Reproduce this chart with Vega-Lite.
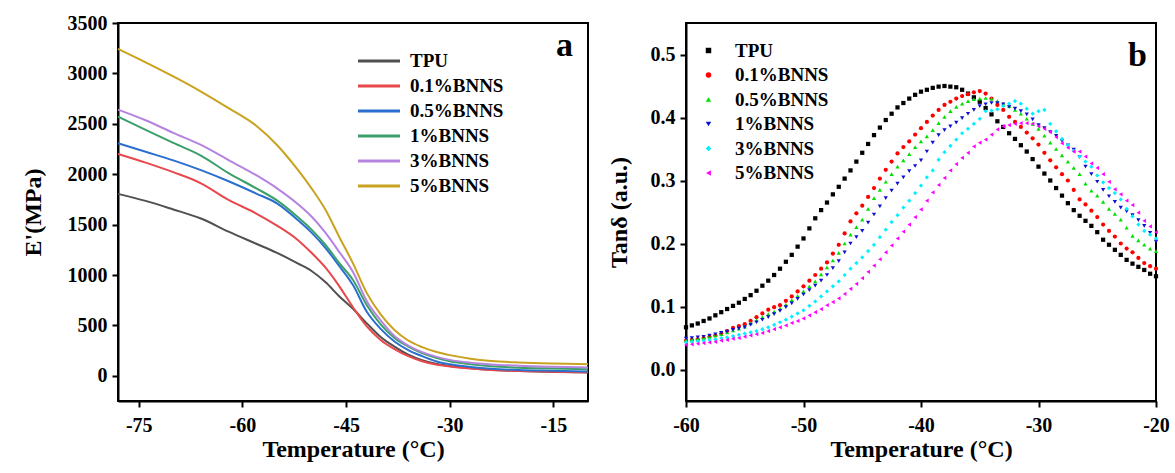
{
"$schema": "https://vega.github.io/schema/vega-lite/v6.json",
"background": "white",
"padding": {"left": 20, "top": 12, "right": 0, "bottom": 0},
"spacing": 13,
"resolve": {"scale": {"color": "independent", "shape": "independent"}, "legend": {"color": "independent", "shape": "independent"}},
"config": {
 "font": "Liberation Serif",
 "view": {"stroke": "black", "strokeWidth": 2},
 "axis": {"grid": false, "domainColor": "black", "domainWidth": 2, "tickColor": "black", "tickWidth": 2, "tickSize": 6, "labelFont": "Liberation Serif", "labelFontSize": 20, "labelFontWeight": "bold", "labelColor": "black", "labelPadding": 5, "labelOverlap": false, "labelFlush": false, "titleFont": "Liberation Serif", "titleFontSize": 24, "titleFontWeight": "bold", "titleColor": "black"},
 "axisX": {"labelPadding": 8, "titlePadding": 2},
 "legend": {"labelFont": "Liberation Serif", "labelFontSize": 19, "labelFontWeight": "bold", "labelColor": "black"},
 "title": {"font": "Liberation Serif", "fontWeight": "bold", "fontSize": 34, "color": "black", "anchor": "end", "baseline": "alphabetic", "frame": "group"}
},
"datasets": {
"modulus": [
{"sample":"TPU","temp":-78,"modulus":1805},{"sample":"TPU","temp":-74,"modulus":1735},{"sample":"TPU","temp":-70,"modulus":1650},{"sample":"TPU","temp":-66,"modulus":1560},{"sample":"TPU","temp":-62,"modulus":1430},{"sample":"TPU","temp":-58,"modulus":1310},{"sample":"TPU","temp":-55,"modulus":1220},{"sample":"TPU","temp":-52,"modulus":1115},{"sample":"TPU","temp":-50,"modulus":1040},{"sample":"TPU","temp":-48,"modulus":930},{"sample":"TPU","temp":-46,"modulus":790},{"sample":"TPU","temp":-44,"modulus":665},{"sample":"TPU","temp":-42,"modulus":520},{"sample":"TPU","temp":-40,"modulus":385},{"sample":"TPU","temp":-38,"modulus":290},{"sample":"TPU","temp":-36,"modulus":210},{"sample":"TPU","temp":-34,"modulus":155},{"sample":"TPU","temp":-32,"modulus":120},{"sample":"TPU","temp":-30,"modulus":98},{"sample":"TPU","temp":-27,"modulus":76},{"sample":"TPU","temp":-24,"modulus":60},{"sample":"TPU","temp":-20,"modulus":48},{"sample":"TPU","temp":-15,"modulus":38},{"sample":"TPU","temp":-10,"modulus":33},
{"sample":"0.1%BNNS","temp":-78,"modulus":2201},{"sample":"0.1%BNNS","temp":-74,"modulus":2115},{"sample":"0.1%BNNS","temp":-70,"modulus":2020},{"sample":"0.1%BNNS","temp":-66,"modulus":1910},{"sample":"0.1%BNNS","temp":-62,"modulus":1745},{"sample":"0.1%BNNS","temp":-58,"modulus":1610},{"sample":"0.1%BNNS","temp":-55,"modulus":1490},{"sample":"0.1%BNNS","temp":-52,"modulus":1348},{"sample":"0.1%BNNS","temp":-50,"modulus":1220},{"sample":"0.1%BNNS","temp":-48,"modulus":1075},{"sample":"0.1%BNNS","temp":-46,"modulus":890},{"sample":"0.1%BNNS","temp":-44,"modulus":680},{"sample":"0.1%BNNS","temp":-42,"modulus":490},{"sample":"0.1%BNNS","temp":-40,"modulus":355},{"sample":"0.1%BNNS","temp":-38,"modulus":265},{"sample":"0.1%BNNS","temp":-36,"modulus":195},{"sample":"0.1%BNNS","temp":-34,"modulus":145},{"sample":"0.1%BNNS","temp":-32,"modulus":112},{"sample":"0.1%BNNS","temp":-30,"modulus":92},{"sample":"0.1%BNNS","temp":-27,"modulus":72},{"sample":"0.1%BNNS","temp":-24,"modulus":58},{"sample":"0.1%BNNS","temp":-20,"modulus":48},{"sample":"0.1%BNNS","temp":-15,"modulus":40},{"sample":"0.1%BNNS","temp":-10,"modulus":35},
{"sample":"0.5%BNNS","temp":-78,"modulus":2307},{"sample":"0.5%BNNS","temp":-74,"modulus":2222},{"sample":"0.5%BNNS","temp":-70,"modulus":2137},{"sample":"0.5%BNNS","temp":-66,"modulus":2040},{"sample":"0.5%BNNS","temp":-62,"modulus":1930},{"sample":"0.5%BNNS","temp":-58,"modulus":1808},{"sample":"0.5%BNNS","temp":-55,"modulus":1710},{"sample":"0.5%BNNS","temp":-52,"modulus":1545},{"sample":"0.5%BNNS","temp":-50,"modulus":1420},{"sample":"0.5%BNNS","temp":-48,"modulus":1270},{"sample":"0.5%BNNS","temp":-46,"modulus":1090},{"sample":"0.5%BNNS","temp":-44,"modulus":900},{"sample":"0.5%BNNS","temp":-42,"modulus":635},{"sample":"0.5%BNNS","temp":-40,"modulus":465},{"sample":"0.5%BNNS","temp":-38,"modulus":340},{"sample":"0.5%BNNS","temp":-36,"modulus":255},{"sample":"0.5%BNNS","temp":-34,"modulus":195},{"sample":"0.5%BNNS","temp":-32,"modulus":145},{"sample":"0.5%BNNS","temp":-30,"modulus":115},{"sample":"0.5%BNNS","temp":-27,"modulus":88},{"sample":"0.5%BNNS","temp":-24,"modulus":70},{"sample":"0.5%BNNS","temp":-20,"modulus":58},{"sample":"0.5%BNNS","temp":-15,"modulus":50},{"sample":"0.5%BNNS","temp":-10,"modulus":43},
{"sample":"1%BNNS","temp":-78,"modulus":2572},{"sample":"1%BNNS","temp":-74,"modulus":2440},{"sample":"1%BNNS","temp":-70,"modulus":2310},{"sample":"1%BNNS","temp":-66,"modulus":2185},{"sample":"1%BNNS","temp":-62,"modulus":2010},{"sample":"1%BNNS","temp":-58,"modulus":1860},{"sample":"1%BNNS","temp":-55,"modulus":1740},{"sample":"1%BNNS","temp":-52,"modulus":1575},{"sample":"1%BNNS","temp":-50,"modulus":1450},{"sample":"1%BNNS","temp":-48,"modulus":1300},{"sample":"1%BNNS","temp":-46,"modulus":1120},{"sample":"1%BNNS","temp":-44,"modulus":950},{"sample":"1%BNNS","temp":-42,"modulus":700},{"sample":"1%BNNS","temp":-40,"modulus":510},{"sample":"1%BNNS","temp":-38,"modulus":375},{"sample":"1%BNNS","temp":-36,"modulus":290},{"sample":"1%BNNS","temp":-34,"modulus":225},{"sample":"1%BNNS","temp":-32,"modulus":178},{"sample":"1%BNNS","temp":-30,"modulus":145},{"sample":"1%BNNS","temp":-27,"modulus":115},{"sample":"1%BNNS","temp":-24,"modulus":95},{"sample":"1%BNNS","temp":-20,"modulus":80},{"sample":"1%BNNS","temp":-15,"modulus":72},{"sample":"1%BNNS","temp":-10,"modulus":66},
{"sample":"3%BNNS","temp":-78,"modulus":2641},{"sample":"3%BNNS","temp":-74,"modulus":2535},{"sample":"3%BNNS","temp":-70,"modulus":2410},{"sample":"3%BNNS","temp":-66,"modulus":2290},{"sample":"3%BNNS","temp":-62,"modulus":2140},{"sample":"3%BNNS","temp":-58,"modulus":1990},{"sample":"3%BNNS","temp":-55,"modulus":1860},{"sample":"3%BNNS","temp":-52,"modulus":1705},{"sample":"3%BNNS","temp":-50,"modulus":1580},{"sample":"3%BNNS","temp":-48,"modulus":1420},{"sample":"3%BNNS","temp":-46,"modulus":1230},{"sample":"3%BNNS","temp":-44,"modulus":1030},{"sample":"3%BNNS","temp":-42,"modulus":740},{"sample":"3%BNNS","temp":-40,"modulus":550},{"sample":"3%BNNS","temp":-38,"modulus":395},{"sample":"3%BNNS","temp":-36,"modulus":300},{"sample":"3%BNNS","temp":-34,"modulus":235},{"sample":"3%BNNS","temp":-32,"modulus":190},{"sample":"3%BNNS","temp":-30,"modulus":158},{"sample":"3%BNNS","temp":-27,"modulus":130},{"sample":"3%BNNS","temp":-24,"modulus":113},{"sample":"3%BNNS","temp":-20,"modulus":100},{"sample":"3%BNNS","temp":-15,"modulus":90},{"sample":"3%BNNS","temp":-10,"modulus":83},
{"sample":"5%BNNS","temp":-78,"modulus":3244},{"sample":"5%BNNS","temp":-74,"modulus":3110},{"sample":"5%BNNS","temp":-70,"modulus":2970},{"sample":"5%BNNS","temp":-66,"modulus":2820},{"sample":"5%BNNS","temp":-62,"modulus":2655},{"sample":"5%BNNS","temp":-58,"modulus":2480},{"sample":"5%BNNS","temp":-55,"modulus":2290},{"sample":"5%BNNS","temp":-52,"modulus":2045},{"sample":"5%BNNS","temp":-50,"modulus":1860},{"sample":"5%BNNS","temp":-48,"modulus":1650},{"sample":"5%BNNS","temp":-46,"modulus":1380},{"sample":"5%BNNS","temp":-44,"modulus":1115},{"sample":"5%BNNS","temp":-42,"modulus":820},{"sample":"5%BNNS","temp":-40,"modulus":610},{"sample":"5%BNNS","temp":-38,"modulus":455},{"sample":"5%BNNS","temp":-36,"modulus":350},{"sample":"5%BNNS","temp":-34,"modulus":285},{"sample":"5%BNNS","temp":-32,"modulus":238},{"sample":"5%BNNS","temp":-30,"modulus":205},{"sample":"5%BNNS","temp":-27,"modulus":170},{"sample":"5%BNNS","temp":-24,"modulus":148},{"sample":"5%BNNS","temp":-20,"modulus":133},{"sample":"5%BNNS","temp":-15,"modulus":122},{"sample":"5%BNNS","temp":-10,"modulus":115}
],
"tand": [
{"sample":"TPU","temp":-60,"tand":0.067},{"sample":"TPU","temp":-59.5,"tand":0.070},{"sample":"TPU","temp":-59,"tand":0.073},{"sample":"TPU","temp":-58.5,"tand":0.077},{"sample":"TPU","temp":-58,"tand":0.081},{"sample":"TPU","temp":-57.5,"tand":0.086},{"sample":"TPU","temp":-57,"tand":0.091},{"sample":"TPU","temp":-56.5,"tand":0.096},{"sample":"TPU","temp":-56,"tand":0.101},{"sample":"TPU","temp":-55.5,"tand":0.106},{"sample":"TPU","temp":-55,"tand":0.112},{"sample":"TPU","temp":-54.5,"tand":0.118},{"sample":"TPU","temp":-54,"tand":0.125},{"sample":"TPU","temp":-53.5,"tand":0.133},{"sample":"TPU","temp":-53,"tand":0.141},{"sample":"TPU","temp":-52.5,"tand":0.150},{"sample":"TPU","temp":-52,"tand":0.160},{"sample":"TPU","temp":-51.5,"tand":0.171},{"sample":"TPU","temp":-51,"tand":0.182},{"sample":"TPU","temp":-50.5,"tand":0.195},{"sample":"TPU","temp":-50,"tand":0.208},{"sample":"TPU","temp":-49.5,"tand":0.224},{"sample":"TPU","temp":-49,"tand":0.240},{"sample":"TPU","temp":-48.5,"tand":0.253},{"sample":"TPU","temp":-48,"tand":0.265},{"sample":"TPU","temp":-47.5,"tand":0.278},{"sample":"TPU","temp":-47,"tand":0.290},{"sample":"TPU","temp":-46.5,"tand":0.303},{"sample":"TPU","temp":-46,"tand":0.316},{"sample":"TPU","temp":-45.5,"tand":0.330},{"sample":"TPU","temp":-45,"tand":0.344},{"sample":"TPU","temp":-44.5,"tand":0.358},{"sample":"TPU","temp":-44,"tand":0.372},{"sample":"TPU","temp":-43.5,"tand":0.384},{"sample":"TPU","temp":-43,"tand":0.396},{"sample":"TPU","temp":-42.5,"tand":0.406},{"sample":"TPU","temp":-42,"tand":0.416},{"sample":"TPU","temp":-41.5,"tand":0.423},{"sample":"TPU","temp":-41,"tand":0.430},{"sample":"TPU","temp":-40.5,"tand":0.436},{"sample":"TPU","temp":-40,"tand":0.441},{"sample":"TPU","temp":-39.5,"tand":0.444},{"sample":"TPU","temp":-39,"tand":0.447},{"sample":"TPU","temp":-38.5,"tand":0.449},{"sample":"TPU","temp":-38,"tand":0.450},{"sample":"TPU","temp":-37.5,"tand":0.449},{"sample":"TPU","temp":-37,"tand":0.448},{"sample":"TPU","temp":-36.5,"tand":0.444},{"sample":"TPU","temp":-36,"tand":0.438},{"sample":"TPU","temp":-35.5,"tand":0.432},{"sample":"TPU","temp":-35,"tand":0.425},{"sample":"TPU","temp":-34.5,"tand":0.415},{"sample":"TPU","temp":-34,"tand":0.405},{"sample":"TPU","temp":-33.5,"tand":0.394},{"sample":"TPU","temp":-33,"tand":0.385},{"sample":"TPU","temp":-32.5,"tand":0.375},{"sample":"TPU","temp":-32,"tand":0.366},{"sample":"TPU","temp":-31.5,"tand":0.356},{"sample":"TPU","temp":-31,"tand":0.346},{"sample":"TPU","temp":-30.5,"tand":0.334},{"sample":"TPU","temp":-30,"tand":0.322},{"sample":"TPU","temp":-29.5,"tand":0.311},{"sample":"TPU","temp":-29,"tand":0.300},{"sample":"TPU","temp":-28.5,"tand":0.288},{"sample":"TPU","temp":-28,"tand":0.276},{"sample":"TPU","temp":-27.5,"tand":0.264},{"sample":"TPU","temp":-27,"tand":0.253},{"sample":"TPU","temp":-26.5,"tand":0.244},{"sample":"TPU","temp":-26,"tand":0.236},{"sample":"TPU","temp":-25.5,"tand":0.228},{"sample":"TPU","temp":-25,"tand":0.218},{"sample":"TPU","temp":-24.5,"tand":0.206},{"sample":"TPU","temp":-24,"tand":0.198},{"sample":"TPU","temp":-23.5,"tand":0.190},{"sample":"TPU","temp":-23,"tand":0.182},{"sample":"TPU","temp":-22.5,"tand":0.174},{"sample":"TPU","temp":-22,"tand":0.168},{"sample":"TPU","temp":-21.5,"tand":0.163},{"sample":"TPU","temp":-21,"tand":0.158},{"sample":"TPU","temp":-20.5,"tand":0.152},{"sample":"TPU","temp":-20,"tand":0.148},
{"sample":"0.1%BNNS","temp":-60,"tand":0.046},{"sample":"0.1%BNNS","temp":-59.5,"tand":0.047},{"sample":"0.1%BNNS","temp":-59,"tand":0.048},{"sample":"0.1%BNNS","temp":-58.5,"tand":0.050},{"sample":"0.1%BNNS","temp":-58,"tand":0.052},{"sample":"0.1%BNNS","temp":-57.5,"tand":0.054},{"sample":"0.1%BNNS","temp":-57,"tand":0.057},{"sample":"0.1%BNNS","temp":-56.5,"tand":0.061},{"sample":"0.1%BNNS","temp":-56,"tand":0.066},{"sample":"0.1%BNNS","temp":-55.5,"tand":0.069},{"sample":"0.1%BNNS","temp":-55,"tand":0.072},{"sample":"0.1%BNNS","temp":-54.5,"tand":0.077},{"sample":"0.1%BNNS","temp":-54,"tand":0.083},{"sample":"0.1%BNNS","temp":-53.5,"tand":0.089},{"sample":"0.1%BNNS","temp":-53,"tand":0.095},{"sample":"0.1%BNNS","temp":-52.5,"tand":0.099},{"sample":"0.1%BNNS","temp":-52,"tand":0.102},{"sample":"0.1%BNNS","temp":-51.5,"tand":0.109},{"sample":"0.1%BNNS","temp":-51,"tand":0.116},{"sample":"0.1%BNNS","temp":-50.5,"tand":0.124},{"sample":"0.1%BNNS","temp":-50,"tand":0.132},{"sample":"0.1%BNNS","temp":-49.5,"tand":0.141},{"sample":"0.1%BNNS","temp":-49,"tand":0.150},{"sample":"0.1%BNNS","temp":-48.5,"tand":0.160},{"sample":"0.1%BNNS","temp":-48,"tand":0.170},{"sample":"0.1%BNNS","temp":-47.5,"tand":0.184},{"sample":"0.1%BNNS","temp":-47,"tand":0.198},{"sample":"0.1%BNNS","temp":-46.5,"tand":0.216},{"sample":"0.1%BNNS","temp":-46,"tand":0.235},{"sample":"0.1%BNNS","temp":-45.5,"tand":0.248},{"sample":"0.1%BNNS","temp":-45,"tand":0.260},{"sample":"0.1%BNNS","temp":-44.5,"tand":0.274},{"sample":"0.1%BNNS","temp":-44,"tand":0.288},{"sample":"0.1%BNNS","temp":-43.5,"tand":0.303},{"sample":"0.1%BNNS","temp":-43,"tand":0.317},{"sample":"0.1%BNNS","temp":-42.5,"tand":0.330},{"sample":"0.1%BNNS","temp":-42,"tand":0.343},{"sample":"0.1%BNNS","temp":-41.5,"tand":0.353},{"sample":"0.1%BNNS","temp":-41,"tand":0.362},{"sample":"0.1%BNNS","temp":-40.5,"tand":0.373},{"sample":"0.1%BNNS","temp":-40,"tand":0.383},{"sample":"0.1%BNNS","temp":-39.5,"tand":0.393},{"sample":"0.1%BNNS","temp":-39,"tand":0.403},{"sample":"0.1%BNNS","temp":-38.5,"tand":0.412},{"sample":"0.1%BNNS","temp":-38,"tand":0.420},{"sample":"0.1%BNNS","temp":-37.5,"tand":0.425},{"sample":"0.1%BNNS","temp":-37,"tand":0.430},{"sample":"0.1%BNNS","temp":-36.5,"tand":0.434},{"sample":"0.1%BNNS","temp":-36,"tand":0.437},{"sample":"0.1%BNNS","temp":-35.5,"tand":0.440},{"sample":"0.1%BNNS","temp":-35,"tand":0.442},{"sample":"0.1%BNNS","temp":-34.5,"tand":0.438},{"sample":"0.1%BNNS","temp":-34,"tand":0.430},{"sample":"0.1%BNNS","temp":-33.5,"tand":0.420},{"sample":"0.1%BNNS","temp":-33,"tand":0.412},{"sample":"0.1%BNNS","temp":-32.5,"tand":0.401},{"sample":"0.1%BNNS","temp":-32,"tand":0.393},{"sample":"0.1%BNNS","temp":-31.5,"tand":0.385},{"sample":"0.1%BNNS","temp":-31,"tand":0.376},{"sample":"0.1%BNNS","temp":-30.5,"tand":0.367},{"sample":"0.1%BNNS","temp":-30,"tand":0.357},{"sample":"0.1%BNNS","temp":-29.5,"tand":0.344},{"sample":"0.1%BNNS","temp":-29,"tand":0.332},{"sample":"0.1%BNNS","temp":-28.5,"tand":0.321},{"sample":"0.1%BNNS","temp":-28,"tand":0.310},{"sample":"0.1%BNNS","temp":-27.5,"tand":0.300},{"sample":"0.1%BNNS","temp":-27,"tand":0.285},{"sample":"0.1%BNNS","temp":-26.5,"tand":0.270},{"sample":"0.1%BNNS","temp":-26,"tand":0.262},{"sample":"0.1%BNNS","temp":-25.5,"tand":0.252},{"sample":"0.1%BNNS","temp":-25,"tand":0.242},{"sample":"0.1%BNNS","temp":-24.5,"tand":0.230},{"sample":"0.1%BNNS","temp":-24,"tand":0.220},{"sample":"0.1%BNNS","temp":-23.5,"tand":0.211},{"sample":"0.1%BNNS","temp":-23,"tand":0.200},{"sample":"0.1%BNNS","temp":-22.5,"tand":0.192},{"sample":"0.1%BNNS","temp":-22,"tand":0.186},{"sample":"0.1%BNNS","temp":-21.5,"tand":0.177},{"sample":"0.1%BNNS","temp":-21,"tand":0.169},{"sample":"0.1%BNNS","temp":-20.5,"tand":0.164},{"sample":"0.1%BNNS","temp":-20,"tand":0.160},
{"sample":"0.5%BNNS","temp":-60,"tand":0.047},{"sample":"0.5%BNNS","temp":-59.5,"tand":0.048},{"sample":"0.5%BNNS","temp":-59,"tand":0.049},{"sample":"0.5%BNNS","temp":-58.5,"tand":0.050},{"sample":"0.5%BNNS","temp":-58,"tand":0.052},{"sample":"0.5%BNNS","temp":-57.5,"tand":0.054},{"sample":"0.5%BNNS","temp":-57,"tand":0.056},{"sample":"0.5%BNNS","temp":-56.5,"tand":0.059},{"sample":"0.5%BNNS","temp":-56,"tand":0.062},{"sample":"0.5%BNNS","temp":-55.5,"tand":0.065},{"sample":"0.5%BNNS","temp":-55,"tand":0.068},{"sample":"0.5%BNNS","temp":-54.5,"tand":0.073},{"sample":"0.5%BNNS","temp":-54,"tand":0.078},{"sample":"0.5%BNNS","temp":-53.5,"tand":0.083},{"sample":"0.5%BNNS","temp":-53,"tand":0.088},{"sample":"0.5%BNNS","temp":-52.5,"tand":0.092},{"sample":"0.5%BNNS","temp":-52,"tand":0.097},{"sample":"0.5%BNNS","temp":-51.5,"tand":0.103},{"sample":"0.5%BNNS","temp":-51,"tand":0.110},{"sample":"0.5%BNNS","temp":-50.5,"tand":0.117},{"sample":"0.5%BNNS","temp":-50,"tand":0.124},{"sample":"0.5%BNNS","temp":-49.5,"tand":0.132},{"sample":"0.5%BNNS","temp":-49,"tand":0.140},{"sample":"0.5%BNNS","temp":-48.5,"tand":0.151},{"sample":"0.5%BNNS","temp":-48,"tand":0.162},{"sample":"0.5%BNNS","temp":-47.5,"tand":0.173},{"sample":"0.5%BNNS","temp":-47,"tand":0.185},{"sample":"0.5%BNNS","temp":-46.5,"tand":0.200},{"sample":"0.5%BNNS","temp":-46,"tand":0.214},{"sample":"0.5%BNNS","temp":-45.5,"tand":0.226},{"sample":"0.5%BNNS","temp":-45,"tand":0.238},{"sample":"0.5%BNNS","temp":-44.5,"tand":0.255},{"sample":"0.5%BNNS","temp":-44,"tand":0.272},{"sample":"0.5%BNNS","temp":-43.5,"tand":0.285},{"sample":"0.5%BNNS","temp":-43,"tand":0.298},{"sample":"0.5%BNNS","temp":-42.5,"tand":0.310},{"sample":"0.5%BNNS","temp":-42,"tand":0.322},{"sample":"0.5%BNNS","temp":-41.5,"tand":0.332},{"sample":"0.5%BNNS","temp":-41,"tand":0.342},{"sample":"0.5%BNNS","temp":-40.5,"tand":0.353},{"sample":"0.5%BNNS","temp":-40,"tand":0.362},{"sample":"0.5%BNNS","temp":-39.5,"tand":0.370},{"sample":"0.5%BNNS","temp":-39,"tand":0.380},{"sample":"0.5%BNNS","temp":-38.5,"tand":0.391},{"sample":"0.5%BNNS","temp":-38,"tand":0.401},{"sample":"0.5%BNNS","temp":-37.5,"tand":0.410},{"sample":"0.5%BNNS","temp":-37,"tand":0.417},{"sample":"0.5%BNNS","temp":-36.5,"tand":0.422},{"sample":"0.5%BNNS","temp":-36,"tand":0.426},{"sample":"0.5%BNNS","temp":-35.5,"tand":0.429},{"sample":"0.5%BNNS","temp":-35,"tand":0.430},{"sample":"0.5%BNNS","temp":-34.5,"tand":0.431},{"sample":"0.5%BNNS","temp":-34,"tand":0.430},{"sample":"0.5%BNNS","temp":-33.5,"tand":0.426},{"sample":"0.5%BNNS","temp":-33,"tand":0.422},{"sample":"0.5%BNNS","temp":-32.5,"tand":0.418},{"sample":"0.5%BNNS","temp":-32,"tand":0.412},{"sample":"0.5%BNNS","temp":-31.5,"tand":0.406},{"sample":"0.5%BNNS","temp":-31,"tand":0.398},{"sample":"0.5%BNNS","temp":-30.5,"tand":0.390},{"sample":"0.5%BNNS","temp":-30,"tand":0.382},{"sample":"0.5%BNNS","temp":-29.5,"tand":0.371},{"sample":"0.5%BNNS","temp":-29,"tand":0.360},{"sample":"0.5%BNNS","temp":-28.5,"tand":0.350},{"sample":"0.5%BNNS","temp":-28,"tand":0.340},{"sample":"0.5%BNNS","temp":-27.5,"tand":0.330},{"sample":"0.5%BNNS","temp":-27,"tand":0.320},{"sample":"0.5%BNNS","temp":-26.5,"tand":0.310},{"sample":"0.5%BNNS","temp":-26,"tand":0.295},{"sample":"0.5%BNNS","temp":-25.5,"tand":0.284},{"sample":"0.5%BNNS","temp":-25,"tand":0.276},{"sample":"0.5%BNNS","temp":-24.5,"tand":0.266},{"sample":"0.5%BNNS","temp":-24,"tand":0.255},{"sample":"0.5%BNNS","temp":-23.5,"tand":0.247},{"sample":"0.5%BNNS","temp":-23,"tand":0.238},{"sample":"0.5%BNNS","temp":-22.5,"tand":0.225},{"sample":"0.5%BNNS","temp":-22,"tand":0.212},{"sample":"0.5%BNNS","temp":-21.5,"tand":0.205},{"sample":"0.5%BNNS","temp":-21,"tand":0.198},{"sample":"0.5%BNNS","temp":-20.5,"tand":0.192},{"sample":"0.5%BNNS","temp":-20,"tand":0.188},
{"sample":"1%BNNS","temp":-60,"tand":0.049},{"sample":"1%BNNS","temp":-59.5,"tand":0.050},{"sample":"1%BNNS","temp":-59,"tand":0.051},{"sample":"1%BNNS","temp":-58.5,"tand":0.052},{"sample":"1%BNNS","temp":-58,"tand":0.054},{"sample":"1%BNNS","temp":-57.5,"tand":0.056},{"sample":"1%BNNS","temp":-57,"tand":0.058},{"sample":"1%BNNS","temp":-56.5,"tand":0.060},{"sample":"1%BNNS","temp":-56,"tand":0.063},{"sample":"1%BNNS","temp":-55.5,"tand":0.065},{"sample":"1%BNNS","temp":-55,"tand":0.067},{"sample":"1%BNNS","temp":-54.5,"tand":0.071},{"sample":"1%BNNS","temp":-54,"tand":0.075},{"sample":"1%BNNS","temp":-53.5,"tand":0.079},{"sample":"1%BNNS","temp":-53,"tand":0.083},{"sample":"1%BNNS","temp":-52.5,"tand":0.088},{"sample":"1%BNNS","temp":-52,"tand":0.093},{"sample":"1%BNNS","temp":-51.5,"tand":0.099},{"sample":"1%BNNS","temp":-51,"tand":0.105},{"sample":"1%BNNS","temp":-50.5,"tand":0.112},{"sample":"1%BNNS","temp":-50,"tand":0.119},{"sample":"1%BNNS","temp":-49.5,"tand":0.126},{"sample":"1%BNNS","temp":-49,"tand":0.133},{"sample":"1%BNNS","temp":-48.5,"tand":0.141},{"sample":"1%BNNS","temp":-48,"tand":0.150},{"sample":"1%BNNS","temp":-47.5,"tand":0.161},{"sample":"1%BNNS","temp":-47,"tand":0.172},{"sample":"1%BNNS","temp":-46.5,"tand":0.186},{"sample":"1%BNNS","temp":-46,"tand":0.200},{"sample":"1%BNNS","temp":-45.5,"tand":0.210},{"sample":"1%BNNS","temp":-45,"tand":0.220},{"sample":"1%BNNS","temp":-44.5,"tand":0.233},{"sample":"1%BNNS","temp":-44,"tand":0.246},{"sample":"1%BNNS","temp":-43.5,"tand":0.259},{"sample":"1%BNNS","temp":-43,"tand":0.272},{"sample":"1%BNNS","temp":-42.5,"tand":0.284},{"sample":"1%BNNS","temp":-42,"tand":0.295},{"sample":"1%BNNS","temp":-41.5,"tand":0.305},{"sample":"1%BNNS","temp":-41,"tand":0.315},{"sample":"1%BNNS","temp":-40.5,"tand":0.323},{"sample":"1%BNNS","temp":-40,"tand":0.332},{"sample":"1%BNNS","temp":-39.5,"tand":0.346},{"sample":"1%BNNS","temp":-39,"tand":0.360},{"sample":"1%BNNS","temp":-38.5,"tand":0.372},{"sample":"1%BNNS","temp":-38,"tand":0.380},{"sample":"1%BNNS","temp":-37.5,"tand":0.386},{"sample":"1%BNNS","temp":-37,"tand":0.392},{"sample":"1%BNNS","temp":-36.5,"tand":0.399},{"sample":"1%BNNS","temp":-36,"tand":0.406},{"sample":"1%BNNS","temp":-35.5,"tand":0.412},{"sample":"1%BNNS","temp":-35,"tand":0.418},{"sample":"1%BNNS","temp":-34.5,"tand":0.421},{"sample":"1%BNNS","temp":-34,"tand":0.423},{"sample":"1%BNNS","temp":-33.5,"tand":0.423},{"sample":"1%BNNS","temp":-33,"tand":0.421},{"sample":"1%BNNS","temp":-32.5,"tand":0.417},{"sample":"1%BNNS","temp":-32,"tand":0.414},{"sample":"1%BNNS","temp":-31.5,"tand":0.410},{"sample":"1%BNNS","temp":-31,"tand":0.405},{"sample":"1%BNNS","temp":-30.5,"tand":0.397},{"sample":"1%BNNS","temp":-30,"tand":0.388},{"sample":"1%BNNS","temp":-29.5,"tand":0.383},{"sample":"1%BNNS","temp":-29,"tand":0.377},{"sample":"1%BNNS","temp":-28.5,"tand":0.371},{"sample":"1%BNNS","temp":-28,"tand":0.363},{"sample":"1%BNNS","temp":-27.5,"tand":0.356},{"sample":"1%BNNS","temp":-27,"tand":0.349},{"sample":"1%BNNS","temp":-26.5,"tand":0.337},{"sample":"1%BNNS","temp":-26,"tand":0.322},{"sample":"1%BNNS","temp":-25.5,"tand":0.310},{"sample":"1%BNNS","temp":-25,"tand":0.298},{"sample":"1%BNNS","temp":-24.5,"tand":0.285},{"sample":"1%BNNS","temp":-24,"tand":0.275},{"sample":"1%BNNS","temp":-23.5,"tand":0.266},{"sample":"1%BNNS","temp":-23,"tand":0.257},{"sample":"1%BNNS","temp":-22.5,"tand":0.251},{"sample":"1%BNNS","temp":-22,"tand":0.245},{"sample":"1%BNNS","temp":-21.5,"tand":0.237},{"sample":"1%BNNS","temp":-21,"tand":0.228},{"sample":"1%BNNS","temp":-20.5,"tand":0.217},{"sample":"1%BNNS","temp":-20,"tand":0.203},
{"sample":"3%BNNS","temp":-60,"tand":0.043},{"sample":"3%BNNS","temp":-59.5,"tand":0.044},{"sample":"3%BNNS","temp":-59,"tand":0.045},{"sample":"3%BNNS","temp":-58.5,"tand":0.046},{"sample":"3%BNNS","temp":-58,"tand":0.047},{"sample":"3%BNNS","temp":-57.5,"tand":0.048},{"sample":"3%BNNS","temp":-57,"tand":0.050},{"sample":"3%BNNS","temp":-56.5,"tand":0.051},{"sample":"3%BNNS","temp":-56,"tand":0.053},{"sample":"3%BNNS","temp":-55.5,"tand":0.055},{"sample":"3%BNNS","temp":-55,"tand":0.057},{"sample":"3%BNNS","temp":-54.5,"tand":0.059},{"sample":"3%BNNS","temp":-54,"tand":0.061},{"sample":"3%BNNS","temp":-53.5,"tand":0.064},{"sample":"3%BNNS","temp":-53,"tand":0.067},{"sample":"3%BNNS","temp":-52.5,"tand":0.071},{"sample":"3%BNNS","temp":-52,"tand":0.075},{"sample":"3%BNNS","temp":-51.5,"tand":0.079},{"sample":"3%BNNS","temp":-51,"tand":0.084},{"sample":"3%BNNS","temp":-50.5,"tand":0.089},{"sample":"3%BNNS","temp":-50,"tand":0.094},{"sample":"3%BNNS","temp":-49.5,"tand":0.101},{"sample":"3%BNNS","temp":-49,"tand":0.108},{"sample":"3%BNNS","temp":-48.5,"tand":0.116},{"sample":"3%BNNS","temp":-48,"tand":0.124},{"sample":"3%BNNS","temp":-47.5,"tand":0.132},{"sample":"3%BNNS","temp":-47,"tand":0.140},{"sample":"3%BNNS","temp":-46.5,"tand":0.150},{"sample":"3%BNNS","temp":-46,"tand":0.160},{"sample":"3%BNNS","temp":-45.5,"tand":0.169},{"sample":"3%BNNS","temp":-45,"tand":0.178},{"sample":"3%BNNS","temp":-44.5,"tand":0.188},{"sample":"3%BNNS","temp":-44,"tand":0.198},{"sample":"3%BNNS","temp":-43.5,"tand":0.210},{"sample":"3%BNNS","temp":-43,"tand":0.222},{"sample":"3%BNNS","temp":-42.5,"tand":0.234},{"sample":"3%BNNS","temp":-42,"tand":0.245},{"sample":"3%BNNS","temp":-41.5,"tand":0.257},{"sample":"3%BNNS","temp":-41,"tand":0.268},{"sample":"3%BNNS","temp":-40.5,"tand":0.280},{"sample":"3%BNNS","temp":-40,"tand":0.292},{"sample":"3%BNNS","temp":-39.5,"tand":0.305},{"sample":"3%BNNS","temp":-39,"tand":0.316},{"sample":"3%BNNS","temp":-38.5,"tand":0.333},{"sample":"3%BNNS","temp":-38,"tand":0.345},{"sample":"3%BNNS","temp":-37.5,"tand":0.355},{"sample":"3%BNNS","temp":-37,"tand":0.365},{"sample":"3%BNNS","temp":-36.5,"tand":0.375},{"sample":"3%BNNS","temp":-36,"tand":0.382},{"sample":"3%BNNS","temp":-35.5,"tand":0.390},{"sample":"3%BNNS","temp":-35,"tand":0.398},{"sample":"3%BNNS","temp":-34.5,"tand":0.410},{"sample":"3%BNNS","temp":-34,"tand":0.411},{"sample":"3%BNNS","temp":-33.5,"tand":0.413},{"sample":"3%BNNS","temp":-33,"tand":0.418},{"sample":"3%BNNS","temp":-32.5,"tand":0.422},{"sample":"3%BNNS","temp":-32,"tand":0.426},{"sample":"3%BNNS","temp":-31.5,"tand":0.422},{"sample":"3%BNNS","temp":-31,"tand":0.414},{"sample":"3%BNNS","temp":-30.5,"tand":0.406},{"sample":"3%BNNS","temp":-30,"tand":0.410},{"sample":"3%BNNS","temp":-29.5,"tand":0.412},{"sample":"3%BNNS","temp":-29,"tand":0.390},{"sample":"3%BNNS","temp":-28.5,"tand":0.378},{"sample":"3%BNNS","temp":-28,"tand":0.366},{"sample":"3%BNNS","temp":-27.5,"tand":0.356},{"sample":"3%BNNS","temp":-27,"tand":0.347},{"sample":"3%BNNS","temp":-26.5,"tand":0.338},{"sample":"3%BNNS","temp":-26,"tand":0.330},{"sample":"3%BNNS","temp":-25.5,"tand":0.322},{"sample":"3%BNNS","temp":-25,"tand":0.308},{"sample":"3%BNNS","temp":-24.5,"tand":0.297},{"sample":"3%BNNS","temp":-24,"tand":0.288},{"sample":"3%BNNS","temp":-23.5,"tand":0.280},{"sample":"3%BNNS","temp":-23,"tand":0.270},{"sample":"3%BNNS","temp":-22.5,"tand":0.255},{"sample":"3%BNNS","temp":-22,"tand":0.243},{"sample":"3%BNNS","temp":-21.5,"tand":0.230},{"sample":"3%BNNS","temp":-21,"tand":0.220},{"sample":"3%BNNS","temp":-20.5,"tand":0.214},{"sample":"3%BNNS","temp":-20,"tand":0.208},
{"sample":"5%BNNS","temp":-60,"tand":0.039},{"sample":"5%BNNS","temp":-59.5,"tand":0.040},{"sample":"5%BNNS","temp":-59,"tand":0.041},{"sample":"5%BNNS","temp":-58.5,"tand":0.042},{"sample":"5%BNNS","temp":-58,"tand":0.043},{"sample":"5%BNNS","temp":-57.5,"tand":0.044},{"sample":"5%BNNS","temp":-57,"tand":0.046},{"sample":"5%BNNS","temp":-56.5,"tand":0.047},{"sample":"5%BNNS","temp":-56,"tand":0.049},{"sample":"5%BNNS","temp":-55.5,"tand":0.050},{"sample":"5%BNNS","temp":-55,"tand":0.052},{"sample":"5%BNNS","temp":-54.5,"tand":0.054},{"sample":"5%BNNS","temp":-54,"tand":0.056},{"sample":"5%BNNS","temp":-53.5,"tand":0.058},{"sample":"5%BNNS","temp":-53,"tand":0.061},{"sample":"5%BNNS","temp":-52.5,"tand":0.064},{"sample":"5%BNNS","temp":-52,"tand":0.067},{"sample":"5%BNNS","temp":-51.5,"tand":0.070},{"sample":"5%BNNS","temp":-51,"tand":0.074},{"sample":"5%BNNS","temp":-50.5,"tand":0.077},{"sample":"5%BNNS","temp":-50,"tand":0.081},{"sample":"5%BNNS","temp":-49.5,"tand":0.086},{"sample":"5%BNNS","temp":-49,"tand":0.091},{"sample":"5%BNNS","temp":-48.5,"tand":0.096},{"sample":"5%BNNS","temp":-48,"tand":0.102},{"sample":"5%BNNS","temp":-47.5,"tand":0.107},{"sample":"5%BNNS","temp":-47,"tand":0.113},{"sample":"5%BNNS","temp":-46.5,"tand":0.120},{"sample":"5%BNNS","temp":-46,"tand":0.128},{"sample":"5%BNNS","temp":-45.5,"tand":0.136},{"sample":"5%BNNS","temp":-45,"tand":0.145},{"sample":"5%BNNS","temp":-44.5,"tand":0.155},{"sample":"5%BNNS","temp":-44,"tand":0.165},{"sample":"5%BNNS","temp":-43.5,"tand":0.175},{"sample":"5%BNNS","temp":-43,"tand":0.186},{"sample":"5%BNNS","temp":-42.5,"tand":0.197},{"sample":"5%BNNS","temp":-42,"tand":0.208},{"sample":"5%BNNS","temp":-41.5,"tand":0.219},{"sample":"5%BNNS","temp":-41,"tand":0.230},{"sample":"5%BNNS","temp":-40.5,"tand":0.242},{"sample":"5%BNNS","temp":-40,"tand":0.254},{"sample":"5%BNNS","temp":-39.5,"tand":0.268},{"sample":"5%BNNS","temp":-39,"tand":0.281},{"sample":"5%BNNS","temp":-38.5,"tand":0.293},{"sample":"5%BNNS","temp":-38,"tand":0.304},{"sample":"5%BNNS","temp":-37.5,"tand":0.316},{"sample":"5%BNNS","temp":-37,"tand":0.326},{"sample":"5%BNNS","temp":-36.5,"tand":0.336},{"sample":"5%BNNS","temp":-36,"tand":0.344},{"sample":"5%BNNS","temp":-35.5,"tand":0.354},{"sample":"5%BNNS","temp":-35,"tand":0.360},{"sample":"5%BNNS","temp":-34.5,"tand":0.365},{"sample":"5%BNNS","temp":-34,"tand":0.373},{"sample":"5%BNNS","temp":-33.5,"tand":0.381},{"sample":"5%BNNS","temp":-33,"tand":0.386},{"sample":"5%BNNS","temp":-32.5,"tand":0.388},{"sample":"5%BNNS","temp":-32,"tand":0.390},{"sample":"5%BNNS","temp":-31.5,"tand":0.391},{"sample":"5%BNNS","temp":-31,"tand":0.391},{"sample":"5%BNNS","temp":-30.5,"tand":0.390},{"sample":"5%BNNS","temp":-30,"tand":0.386},{"sample":"5%BNNS","temp":-29.5,"tand":0.382},{"sample":"5%BNNS","temp":-29,"tand":0.377},{"sample":"5%BNNS","temp":-28.5,"tand":0.369},{"sample":"5%BNNS","temp":-28,"tand":0.359},{"sample":"5%BNNS","temp":-27.5,"tand":0.352},{"sample":"5%BNNS","temp":-27,"tand":0.346},{"sample":"5%BNNS","temp":-26.5,"tand":0.346},{"sample":"5%BNNS","temp":-26,"tand":0.338},{"sample":"5%BNNS","temp":-25.5,"tand":0.327},{"sample":"5%BNNS","temp":-25,"tand":0.320},{"sample":"5%BNNS","temp":-24.5,"tand":0.310},{"sample":"5%BNNS","temp":-24,"tand":0.298},{"sample":"5%BNNS","temp":-23.5,"tand":0.286},{"sample":"5%BNNS","temp":-23,"tand":0.278},{"sample":"5%BNNS","temp":-22.5,"tand":0.268},{"sample":"5%BNNS","temp":-22,"tand":0.261},{"sample":"5%BNNS","temp":-21.5,"tand":0.249},{"sample":"5%BNNS","temp":-21,"tand":0.236},{"sample":"5%BNNS","temp":-20.5,"tand":0.227},{"sample":"5%BNNS","temp":-20,"tand":0.218}
]
},
"hconcat": [
{
 "width": 470, "height": 378,
 "title": {"text": "a", "dx": -15, "offset": -50},
 "data": {"name": "modulus"},
 "mark": {"type": "line", "strokeWidth": 2, "interpolate": "monotone"},
 "encoding": {
  "x": {"field": "temp", "type": "quantitative", "scale": {"domain": [-78, -10], "nice": false, "zero": false}, "axis": {"values": [-75, -60, -45, -30, -15], "labelExpr": "toString(datum.value)", "title": "Temperature (°C)"}},
  "y": {"field": "modulus", "type": "quantitative", "scale": {"domain": [-250, 3500], "nice": false, "zero": false}, "axis": {"values": [0, 500, 1000, 1500, 2000, 2500, 3000, 3500], "labelExpr": "toString(datum.value)", "title": "E'(MPa)", "titlePadding": 22}},
  "color": {"field": "sample", "type": "nominal", "sort": null,
   "scale": {"domain": ["TPU", "0.1%BNNS", "0.5%BNNS", "1%BNNS", "3%BNNS", "5%BNNS"], "range": ["#505050", "#e8474b", "#2a6fd0", "#3aa06a", "#b583e0", "#c9a21f"]},
   "legend": {"orient": "none", "legendX": 249, "legendY": 26, "title": null, "symbolType": "M-2,0H2", "symbolStrokeWidth": 3, "symbolSize": 441, "labelOffset": 19, "rowPadding": 3}}
 }
},
{
 "width": 470, "height": 378,
 "title": {"text": "b", "dx": -9, "offset": -50},
 "data": {"name": "tand"},
 "mark": {"type": "point", "filled": true, "size": 18, "opacity": 1},
 "encoding": {
  "x": {"field": "temp", "type": "quantitative", "scale": {"domain": [-60, -20], "nice": false, "zero": false}, "axis": {"values": [-60, -50, -40, -30, -20], "labelExpr": "toString(datum.value)", "title": "Temperature (°C)"}},
  "y": {"field": "tand", "type": "quantitative", "scale": {"domain": [-0.05, 0.55], "nice": false, "zero": false}, "axis": {"values": [0, 0.1, 0.2, 0.3, 0.4, 0.5], "format": ".1f", "title": "Tanδ (a.u.)", "titlePadding": 19}},
  "color": {"field": "sample", "type": "nominal", "sort": null,
   "scale": {"domain": ["TPU", "0.1%BNNS", "0.5%BNNS", "1%BNNS", "3%BNNS", "5%BNNS"], "range": ["#000000", "#ff0000", "#00e000", "#1010d0", "#00f0ff", "#ff00ff"]},
   "legend": {"orient": "none", "legendX": 13, "legendY": 18, "title": null, "symbolSize": 30, "labelOffset": 17, "rowPadding": 4.5}},
  "shape": {"field": "sample", "type": "nominal", "sort": null,
   "scale": {"domain": ["TPU", "0.1%BNNS", "0.5%BNNS", "1%BNNS", "3%BNNS", "5%BNNS"], "range": ["square", "circle", "triangle-up", "triangle-down", "diamond", "triangle-left"]},
   "legend": {"orient": "none", "legendX": 13, "legendY": 18, "title": null, "symbolSize": 30, "labelOffset": 17, "rowPadding": 4.5}}
 }
}
]
}
